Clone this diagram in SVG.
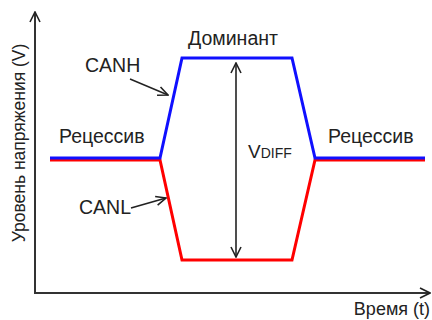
<svg xmlns="http://www.w3.org/2000/svg" width="432" height="320" viewBox="0 0 432 320">
  <defs>
    <marker id="chev" viewBox="0 0 12 12" refX="11" refY="6" markerWidth="12" markerHeight="12" markerUnits="userSpaceOnUse" orient="auto-start-reverse">
      <path d="M1,1 L11,6 L1,11" fill="none" stroke="#222" stroke-width="1.6"/>
    </marker>
    <marker id="chevL" viewBox="0 0 12 12" refX="11" refY="6" markerWidth="12" markerHeight="12" markerUnits="userSpaceOnUse" orient="auto">
      <path d="M1,1.5 L11,6 L1,10.5" fill="none" stroke="#222" stroke-width="1.6"/>
    </marker>
  </defs>
  <style>
    text { font-family: "Liberation Sans", Arial, sans-serif; fill: #222; }
    .lbl { font-size: 19.5px; }
    .axis { stroke: #333; stroke-width: 2; fill: none; }
    .ptr { stroke: #222; stroke-width: 1.6; fill: none; }
    .canh { stroke: #1010ff; stroke-width: 3; fill: none; stroke-linejoin: miter; }
    .canl { stroke: #ff0000; stroke-width: 3; fill: none; stroke-linejoin: miter; }
  </style>
  <rect width="432" height="320" fill="#ffffff"/>

  <!-- axes -->
  <g id="axes">
    <path class="axis" d="M35,293 V12" marker-end="url(#chev)"/>
    <path class="axis" d="M34,293 H430" marker-end="url(#chev)"/>
    <text id="y-label" font-size="17.5" transform="translate(25,143) rotate(-90)" text-anchor="middle">Уровень напряжения (V)</text>
    <text id="x-label" x="430" y="315" font-size="18" text-anchor="end">Время (t)</text>
  </g>

  <!-- bus signals -->
  <g id="canl">
    <path class="canl" d="M50,160 H160 L182,260 H292 L315,160 H425"/>
  </g>
  <g id="canh">
    <path class="canh" d="M50,158 H160 L182,58 H292 L315,158 H425"/>
  </g>

  <!-- pointers from labels to traces, and the differential voltage span -->
  <g id="connectors">
    <path class="ptr" d="M130,79 L168,95" marker-end="url(#chevL)"/>
    <path class="ptr" d="M131,208 L166,198" marker-end="url(#chevL)"/>
    <path class="ptr" d="M236,63 V257" marker-start="url(#chev)" marker-end="url(#chev)"/>
  </g>

  <g id="label-dominant">
    <text class="lbl" x="233" y="45" text-anchor="middle">Доминант</text>
  </g>
  <g id="label-canh">
    <text class="lbl" x="85" y="72">CANH</text>
  </g>
  <g id="label-canl">
    <text class="lbl" x="79" y="214">CANL</text>
  </g>
  <g id="label-recessive-left">
    <text class="lbl" x="59" y="143">Рецессив</text>
  </g>
  <g id="label-recessive-right">
    <text class="lbl" x="328" y="143">Рецессив</text>
  </g>
  <g id="label-vdiff">
    <text x="248" y="158"><tspan font-size="19">V</tspan><tspan font-size="14">DIFF</tspan></text>
  </g>
</svg>
